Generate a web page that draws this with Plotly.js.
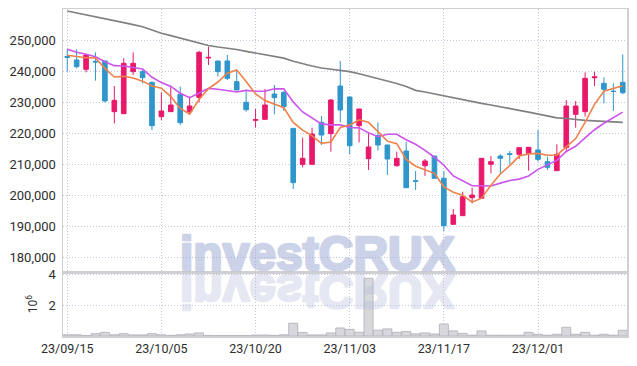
<!DOCTYPE html>
<html>
<head>
<meta charset="utf-8">
<script src="https://cdn.plot.ly/plotly-3.0.1.min.js"></script>
<style>
  html, body { margin: 0; padding: 0; background: #ffffff; }
  #chart { width: 637px; height: 366px; }
</style>
</head>
<body>
<div id="chart"></div>
<script>
// ---- data ----
const dates = [
  '2023-09-15','2023-09-18','2023-09-19','2023-09-20','2023-09-21','2023-09-22','2023-09-25','2023-09-26','2023-09-27',
  '2023-10-04','2023-10-05','2023-10-06','2023-10-10','2023-10-11','2023-10-12','2023-10-13','2023-10-16','2023-10-17',
  '2023-10-18','2023-10-19','2023-10-20','2023-10-23','2023-10-24','2023-10-25','2023-10-26','2023-10-27','2023-10-30',
  '2023-10-31','2023-11-01','2023-11-02','2023-11-03','2023-11-06','2023-11-07','2023-11-08','2023-11-09','2023-11-10',
  '2023-11-13','2023-11-14','2023-11-15','2023-11-16','2023-11-17','2023-11-20','2023-11-21','2023-11-22','2023-11-23',
  '2023-11-24','2023-11-27','2023-11-28','2023-11-29','2023-11-30','2023-12-01','2023-12-04','2023-12-05','2023-12-06',
  '2023-12-07','2023-12-08','2023-12-11','2023-12-12','2023-12-13','2023-12-14'
];
const openP = [244700,243550,240540,243100,243230,226880,226240,239780,239780,236340,225270,226880,232470,226880,231510,
  244200,243230,243230,236560,229890,224100,224410,232580,233120,221500,209890,209890,223440,219780,235160,231610,222370,
  211720,219140,216130,209460,214190,204600,209460,212580,205380,190540,193330,199140,198920,209890,212580,213300,213120,
  213440,214520,210750,207850,215270,226020,226880,237800,236020,233500,236340];
const highP = [247000,247000,245380,246000,243300,235160,244090,246020,240320,236600,233120,235270,234950,231720,246450,
  247850,243300,245160,240320,233330,227740,234190,235480,233550,221600,218500,221720,225480,230970,243230,231700,227800,
  219890,223440,216200,213980,217200,207740,211610,212600,207740,195480,201070,202360,211900,212580,213120,214190,215300,
  215400,220970,212370,216340,230640,230320,239570,239780,237960,236020,245380];
const lowP = [239800,240860,239570,236900,229900,223120,226200,238710,236020,220970,224190,226800,222590,226030,229890,
  241940,238170,237100,233800,226880,221720,224300,226030,227100,201930,208920,209800,216130,213980,223440,213120,216990,
  208060,214300,206450,209140,202300,201610,206130,205300,188390,190500,193300,197310,198900,206990,206990,209890,211610,
  207850,210750,208060,207800,213760,221720,225270,235160,229570,227100,232470];
const closeP = [244400,241400,245160,242900,230320,230540,242470,242470,237850,222370,227100,229030,223340,228710,246020,
  244400,239780,237640,233870,227530,224300,229030,231400,228500,203980,211830,219680,219350,230640,227420,215910,227740,
  215480,216130,211610,211830,202360,204400,210970,205380,190110,193550,199460,200000,211830,210750,211830,213100,215270,
  215380,211510,208920,213120,228710,228710,237630,238100,234090,233400,233010];
const volumeM = [0.08,0.08,0.03,0.15,0.24,0.08,0.15,0.07,0.07,0.15,0.08,0.04,0.08,0.13,0.2,0.04,0.03,0.03,0.03,0.03,
  0.06,0.06,0.04,0.08,0.83,0.23,0.07,0.07,0.2,0.52,0.43,0.24,3.76,0.38,0.46,0.24,0.3,0.14,0.2,0.13,0.78,0.33,0.17,0.05,
  0.33,0.05,0.05,0.05,0.05,0.24,0.11,0.05,0.11,0.57,0.11,0.24,0.05,0.11,0.05,0.37];
const ma5 = [245100,244700,244300,244200,240840,238060,238280,237740,236730,235140,234450,231760,227940,226110,230840,
  234300,236450,239310,240340,236640,232620,230470,229230,228150,223440,220950,219080,216670,217100,221780,222600,224210,
  223440,220540,217370,216560,211480,209270,208230,206990,202640,200880,199890,197700,198990,203120,206770,209500,212560,
  213270,213420,212840,212840,215530,218190,223420,229250,233450,234390,235250];
const ma10 = [246990,246020,245380,244620,243010,241720,241610,241180,240640,237990,236260,235020,232840,231420,232990,
  234380,234110,233620,233230,233740,233460,233460,234270,234250,230040,226790,224780,222950,222620,222610,221770,221650,
  220050,218820,219580,219580,217850,216350,214390,212180,209600,206180,204580,202970,202990,202880,203830,204700,205130,
  206130,208270,209810,211170,214040,215730,218420,221050,223140,224960,226720];
const maLong = [259360,258770,258130,257420,256770,256190,255580,254970,254260,253230,252190,251420,250650,249840,249030,
  248230,247740,247420,246940,246350,245810,245260,244740,244130,243160,242290,241610,240970,240580,240190,239810,239100,
  238320,237610,236770,235970,235000,233740,233220,232580,231930,231320,230740,230100,229550,229030,228520,227970,227320,
  226710,226030,225350,224900,224680,224320,224100,223930,223770,223640,223450];
const tickDates = ['2023-09-15','2023-10-05','2023-10-20','2023-11-03','2023-11-17','2023-12-01'];
const tickText = ['23/09/15','23/10/05','23/10/20','23/11/03','23/11/17','23/12/01'];
const priceTicks = [180000,190000,200000,210000,220000,230000,240000,250000];
const volTicks = [2,4];
const watermark = 'investCRUX';

// ---- styles ----
const RED = '#e8196b', BLUE = '#2f96cb';
const GRID = '#c4c7de', AXLINE = '#cfcfd4';
const DASH = '1px,2px';
const tickFont = {family: 'Roboto, Arial, sans-serif', size: 13, color: '#2e2e2e'};
const VOL_TOP = 0.1957;
const WM_FONT = 'Liberation Sans, Arial, sans-serif';

const traces = [
  {type: 'candlestick', x: dates, open: openP, high: highP, low: lowP, close: closeP,
   xaxis: 'x', yaxis: 'y', whiskerwidth: 0,
   increasing: {line: {color: RED, width: 1}, fillcolor: RED},
   decreasing: {line: {color: BLUE, width: 1}, fillcolor: BLUE},
   hoverinfo: 'skip', showlegend: false},
  {type: 'scatter', mode: 'lines', x: dates, y: maLong, xaxis: 'x', yaxis: 'y',
   line: {color: '#808080', width: 1.7}, hoverinfo: 'skip', showlegend: false},
  {type: 'scatter', mode: 'lines', x: dates, y: ma10, xaxis: 'x', yaxis: 'y',
   line: {color: '#cc55ee', width: 1.6}, hoverinfo: 'skip', showlegend: false},
  {type: 'scatter', mode: 'lines', x: dates, y: ma5, xaxis: 'x', yaxis: 'y',
   line: {color: '#f0814a', width: 1.6}, hoverinfo: 'skip', showlegend: false},
  {type: 'bar', x: dates, y: volumeM, xaxis: 'x2', yaxis: 'y2',
   marker: {color: '#d8d8dc', line: {color: '#b8b8c0', width: 1}},
   hoverinfo: 'skip', showlegend: false}
];

const layout = {
  width: 637, height: 366,
  margin: {l: 63, r: 10, t: 9, b: 30},
  paper_bgcolor: '#ffffff', plot_bgcolor: '#ffffff',
  showlegend: false, bargap: 0.05,
  xaxis: {type: 'category', range: [-0.45, 59.45], anchor: 'y', domain: [0, 1],
    rangeslider: {visible: false}, showticklabels: false,
    tickmode: 'array', tickvals: tickDates, ticks: '',
    showgrid: true, gridcolor: GRID, griddash: DASH, gridwidth: 1,
    showline: true, mirror: true, linecolor: AXLINE, linewidth: 1.5, zeroline: false},
  yaxis: {domain: [VOL_TOP, 1], range: [175160, 260000], anchor: 'x',
    tickmode: 'array', tickvals: priceTicks, tickformat: ',', tickfont: tickFont,
    ticks: 'outside', ticklen: 3, tickcolor: 'rgba(0,0,0,0)',
    showgrid: true, gridcolor: GRID, griddash: DASH, gridwidth: 1,
    showline: true, mirror: true, linecolor: AXLINE, linewidth: 1.5, zeroline: false},
  xaxis2: {type: 'category', matches: 'x', anchor: 'y2', domain: [0, 1],
    tickmode: 'array', tickvals: tickDates, ticktext: tickText,
    tickfont: {family: 'Roboto, Arial, sans-serif', size: 12.5, color: '#2e2e2e'},
    ticks: '', tickangle: 0,
    showgrid: true, gridcolor: GRID, griddash: DASH, gridwidth: 1,
    showline: true, mirror: true, linecolor: AXLINE, linewidth: 1.5, zeroline: false},
  yaxis2: {domain: [0, VOL_TOP], range: [0, 4.17], anchor: 'x2',
    tickmode: 'array', tickvals: volTicks, tickfont: tickFont,
    ticks: 'outside', ticklen: 3, tickcolor: 'rgba(0,0,0,0)',
    title: {text: '10<sup>6</sup>', font: {family: 'Roboto, Arial, sans-serif', size: 12, color: '#333333'}, standoff: 8},
    showgrid: true, gridcolor: GRID, griddash: DASH, gridwidth: 1,
    showline: true, mirror: true, linecolor: AXLINE, linewidth: 1.5, zeroline: false},
  annotations: [
    {text: watermark, xref: 'paper', yref: 'paper', x: 0.4504, y: 0.2508,
     xanchor: 'center', yanchor: 'middle', showarrow: false,
     font: {family: WM_FONT, size: 48, weight: 700, color: 'rgba(160,172,212,0.5)'}},
    {text: watermark, xref: 'paper', yref: 'paper', x: 0.4504, y: 0.137,
     xanchor: 'center', yanchor: 'middle', showarrow: false,
     font: {family: WM_FONT, size: 48, weight: 700, color: 'rgba(175,184,218,0.28)'}}
  ]
};

// look of the two watermark texts: [fill colour, group opacity]
const wmLook = [['#9aa6d2', 0.5], ['#b0b8da', 0.32]];

const gd = document.getElementById('chart');
Plotly.newPlot(gd, traces, layout, {displayModeBar: false, staticPlot: true}).then(function () {
  const anns = gd.querySelectorAll('g.annotation');
  anns.forEach(function (g, k) {
    const t = g.querySelector('text');
    if (!t || k > 1) return;
    t.style.fontWeight = '700';
    t.style.fill = wmLook[k][0];
    t.style.fillOpacity = '1';
    t.style.stroke = wmLook[k][0];
    t.style.strokeWidth = '2.6px';
    t.style.strokeLinejoin = 'round';
    t.style.opacity = String(wmLook[k][1]);
    if (k === 1) {
      const bb = t.getBBox();
      const cy = bb.y + bb.height / 2;
      const prev = t.getAttribute('transform') || '';
      t.setAttribute('transform', 'translate(0,' + (2 * cy) + ') scale(1,-1) ' + prev);
    }
  });
});
</script>
</body>
</html>
